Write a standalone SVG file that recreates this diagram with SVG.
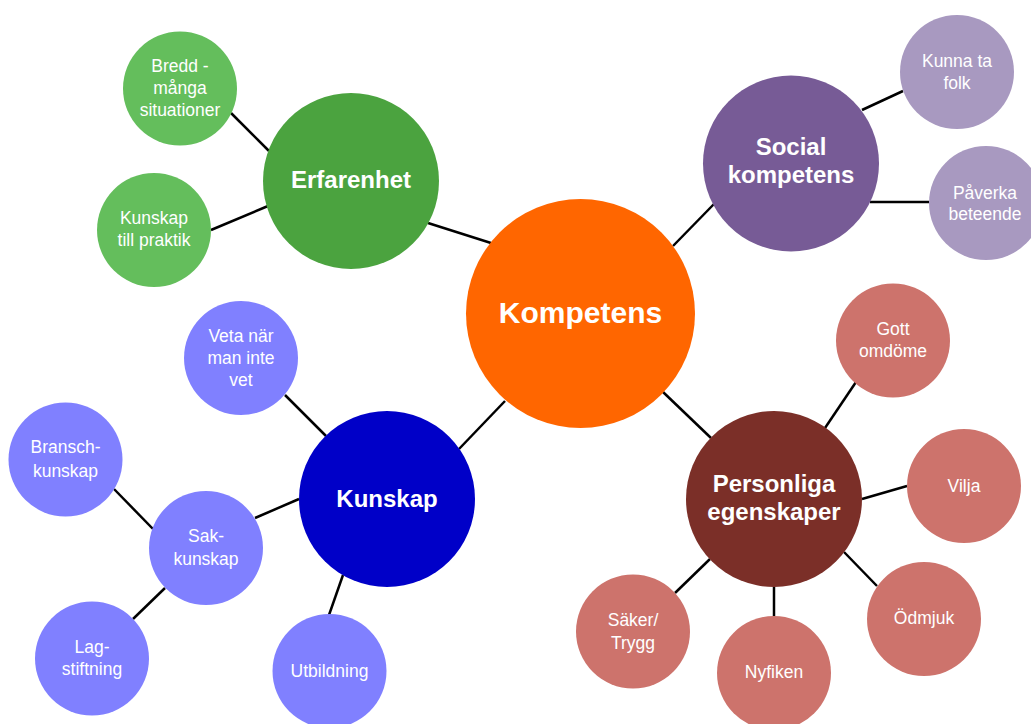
<svg xmlns="http://www.w3.org/2000/svg" width="1031" height="724" viewBox="0 0 1031 724">
<style>
.ln{stroke:#000;stroke-width:2.5;fill:none}
text{font-family:"Liberation Sans",Arial,sans-serif;fill:#fff;text-anchor:middle}
.big{font-weight:bold;font-size:24px}
.sm{font-size:17.5px}
.g1{fill:#4BA33F}.g2{fill:#64BE5C}
.p1{fill:#775B96}.p2{fill:#A899C0}
.b1{fill:#0000C8}.b2{fill:#8080FF}
.r1{fill:#7B2F28}.r2{fill:#CD736C}
</style>
<rect width="1031" height="724" fill="#fff"/>
<g id="connectors">
<line class="ln" x1="428" y1="223" x2="491" y2="243"/>
<line class="ln" x1="231" y1="113" x2="269" y2="151"/>
<line class="ln" x1="211" y1="230" x2="268" y2="206"/>
<line class="ln" x1="673" y1="246" x2="714" y2="204"/>
<line class="ln" x1="862" y1="110" x2="903" y2="91"/>
<line class="ln" x1="870" y1="202" x2="929" y2="202"/>
<line class="ln" x1="505" y1="401" x2="459" y2="449"/>
<line class="ln" x1="285" y1="395" x2="326" y2="436"/>
<line class="ln" x1="255" y1="518" x2="299" y2="499"/>
<line class="ln" x1="114" y1="489" x2="153" y2="529"/>
<line class="ln" x1="133" y1="619" x2="165" y2="588"/>
<line class="ln" x1="329" y1="615" x2="343" y2="575"/>
<line class="ln" x1="663" y1="392" x2="711" y2="438"/>
<line class="ln" x1="856" y1="382" x2="825" y2="428"/>
<line class="ln" x1="862" y1="499" x2="907" y2="486"/>
<line class="ln" x1="844" y1="552" x2="877" y2="586"/>
<line class="ln" x1="774" y1="587" x2="774" y2="617"/>
<line class="ln" x1="675" y1="593" x2="710" y2="559"/>
</g>
<g id="kompetens"><circle cx="580.5" cy="313.5" r="114.5" fill="#FF6600"/><text x="580.5" y="323" font-weight="bold" font-size="30">Kompetens</text></g>
<g id="erfarenhet"><circle cx="351" cy="181" r="88" class="g1"/><text class="big" x="351" y="188">Erfarenhet</text></g>
<g id="bredd"><circle cx="180" cy="88.5" r="57" class="g2"/><text class="sm" x="180" y="72">Bredd -</text><text class="sm" x="180" y="94">många</text><text class="sm" x="180" y="116">situationer</text></g>
<g id="praktik"><circle cx="154" cy="230" r="57" class="g2"/><text class="sm" x="154" y="224">Kunskap</text><text class="sm" x="154" y="246">till praktik</text></g>
<g id="social"><circle cx="791" cy="163.5" r="88" class="p1"/><text class="big" x="791" y="155">Social</text><text class="big" x="791" y="183">kompetens</text></g>
<g id="kunna"><circle cx="957" cy="72" r="57" class="p2"/><text class="sm" x="957" y="67">Kunna ta</text><text class="sm" x="957" y="89">folk</text></g>
<g id="paverka"><circle cx="986" cy="203" r="57" class="p2"/><text class="sm" x="985" y="199">Påverka</text><text class="sm" x="985" y="220">beteende</text></g>
<g id="kunskap"><circle cx="387" cy="499" r="88" class="b1"/><text class="big" x="387" y="507">Kunskap</text></g>
<g id="veta"><circle cx="241" cy="358" r="57" class="b2"/><text class="sm" x="241" y="342">Veta när</text><text class="sm" x="241" y="364">man inte</text><text class="sm" x="241" y="386">vet</text></g>
<g id="bransch"><circle cx="65.5" cy="459.5" r="57" class="b2"/><text class="sm" x="65.5" y="453">Bransch-</text><text class="sm" x="65.5" y="477">kunskap</text></g>
<g id="sak"><circle cx="206" cy="548" r="57" class="b2"/><text class="sm" x="206" y="542">Sak-</text><text class="sm" x="206" y="565">kunskap</text></g>
<g id="lag"><circle cx="92" cy="658.5" r="57" class="b2"/><text class="sm" x="92" y="653">Lag-</text><text class="sm" x="92" y="675">stiftning</text></g>
<g id="utbildning"><circle cx="329.5" cy="671" r="57" class="b2"/><text class="sm" x="329.5" y="677">Utbildning</text></g>
<g id="personliga"><circle cx="774" cy="499" r="88" class="r1"/><text class="big" x="774" y="492">Personliga</text><text class="big" x="774" y="520">egenskaper</text></g>
<g id="gott"><circle cx="893" cy="340.5" r="57" class="r2"/><text class="sm" x="893" y="335">Gott</text><text class="sm" x="893" y="357">omdöme</text></g>
<g id="vilja"><circle cx="964" cy="486" r="57" class="r2"/><text class="sm" x="964" y="492">Vilja</text></g>
<g id="odmjuk"><circle cx="924" cy="619" r="57" class="r2"/><text class="sm" x="924" y="624">Ödmjuk</text></g>
<g id="nyfiken"><circle cx="774" cy="673" r="57" class="r2"/><text class="sm" x="774" y="678">Nyfiken</text></g>
<g id="saker"><circle cx="633" cy="631.5" r="57" class="r2"/><text class="sm" x="633" y="626">Säker/</text><text class="sm" x="633" y="649">Trygg</text></g>
</svg>
